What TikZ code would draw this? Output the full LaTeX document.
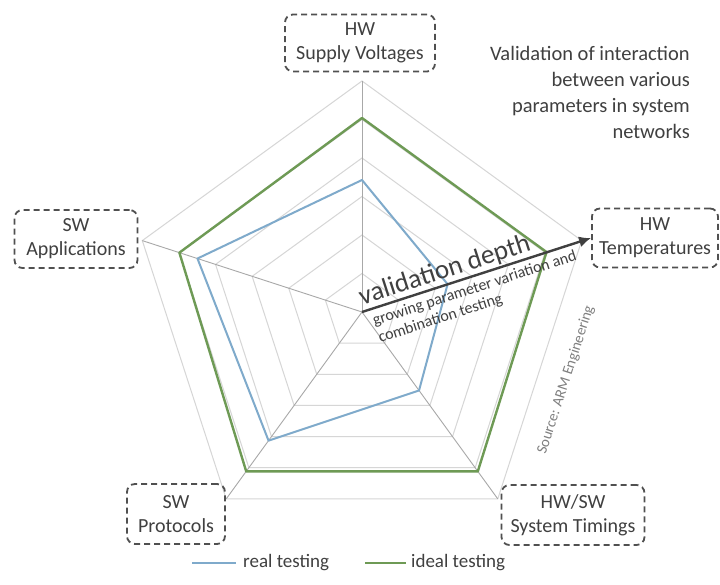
\documentclass[tikz,border=0pt]{standalone}
\usepackage{fontspec}
\setmainfont{Carlito}
\usetikzlibrary{arrows.meta,calc}
\definecolor{boxgray}{HTML}{505050}
\definecolor{txtgray}{HTML}{404040}
\definecolor{gridgray}{HTML}{D6D6D6}
\definecolor{spokegray}{HTML}{A8A8A8}
\definecolor{realblue}{HTML}{7FAACB}
\definecolor{idealgreen}{HTML}{6E9A55}
\begin{document}
\begin{tikzpicture}[x=1pt,y=1pt,
  lbl/.style={draw=boxgray, dash pattern=on 6pt off 4pt, line width=1.8pt,
    rounded corners=8pt, align=center, font=\fontsize{20}{24}\selectfont,
    text=txtgray, inner sep=2pt},
  gridline/.style={draw=gridgray, line width=1pt},
  spoke/.style={draw=spokegray, line width=0.9pt},
  realline/.style={draw=realblue, line width=2pt, line join=round},
  idealline/.style={draw=idealgreen, line width=2.4pt, line join=round},
  arr/.style={draw=txtgray, line width=2.4pt, -{Latex[length=12pt,width=11pt]}},
  legtext/.style={font=\fontsize{19}{22}\selectfont, text=txtgray, anchor=west, inner sep=0pt}]
\useasboundingbox (0,0) rectangle (720,584);
\fill[white] (0,0) rectangle (720,584);
\coordinate (C) at (362,272);
% grid rings
\foreach \k in {1,...,6}{
  \pgfmathsetmacro{\r}{38.5*\k}
  \draw[gridline] ($(C)+(90:\r)$) -- ($(C)+(18:\r)$) -- ($(C)+(-54:\r)$) -- ($(C)+(-126:\r)$) -- ($(C)+(162:\r)$) -- cycle;
}
% spokes
\coordinate (s1) at ($(C)+(90:231)$);
\coordinate (s2) at ($(C)+(18:231)$);
\coordinate (s3) at ($(C)+(-54:231)$);
\coordinate (s4) at ($(C)+(-126:231)$);
\coordinate (s5) at ($(C)+(162:231)$);
\foreach \s in {s1,s2,s3,s4,s5}{ \draw[spoke] (C) -- (\s); }
% ideal testing
\draw[idealline] ($(C)+(90:194)$) -- ($(C)+(18:194)$) -- ($(C)+(-54:197)$) -- ($(C)+(-126:197)$) -- ($(C)+(162:192)$) -- cycle;
% real testing
\draw[realline] ($(C)+(90:132)$) -- ($(C)+(18:90)$) -- ($(C)+(-54:97)$) -- ($(C)+(-126:159)$) -- ($(C)+(162:173)$) -- cycle;
% label boxes
\node[lbl, minimum width=150pt, minimum height=57pt] (volt) at (360,541) {HW\\Supply Voltages};
\node[lbl, minimum width=123pt, minimum height=58pt] (app) at (76,345) {SW\\Applications};
\node[lbl, minimum width=126pt, minimum height=59pt] (temp) at (655,346) {HW\\Temperatures};
\node[lbl, minimum width=98pt, minimum height=60pt] (prot) at (176,70) {SW\\Protocols};
\node[lbl, minimum width=143pt, minimum height=60pt] (tim) at (573,69) {HW/SW\\System Timings};
% validation depth arrow
\draw[arr] (C) -- (temp.west)
  node[pos=0.38, sloped, anchor=south, inner sep=1pt, text=txtgray, font=\fontsize{27}{30}\selectfont] (vd) {validation depth};
\node[anchor=north west, rotate=18, align=left, inner sep=0pt, text=txtgray,
  font=\fontsize{16}{18}\selectfont] (grow) at ($(C)+(9,-3)$) {growing parameter variation and\\combination testing};
% source
\node[rotate=72, text=gray, font=\fontsize{15}{17}\selectfont, inner sep=0pt] (src) at (566,204) {Source: ARM Engineering};
% top-right note
\node[anchor=north east, align=right, inner sep=0pt, text=txtgray,
  font=\fontsize{20.5}{26}\selectfont] (note) at (690,538) {Validation of interaction\\between various\\parameters in system\\networks};
% legend
\coordinate (lb1) at (192,21);
\coordinate (lb2) at (236,21);
\coordinate (lg1) at (365,21);
\coordinate (lg2) at (406,21);
\draw[realline] (lb1) -- (lb2);
\node[legtext] (lbt) at (243,21) {real testing};
\draw[idealline] (lg1) -- (lg2);
\node[legtext] (lgt) at (411,21) {ideal testing};
\end{tikzpicture}
\end{document}
